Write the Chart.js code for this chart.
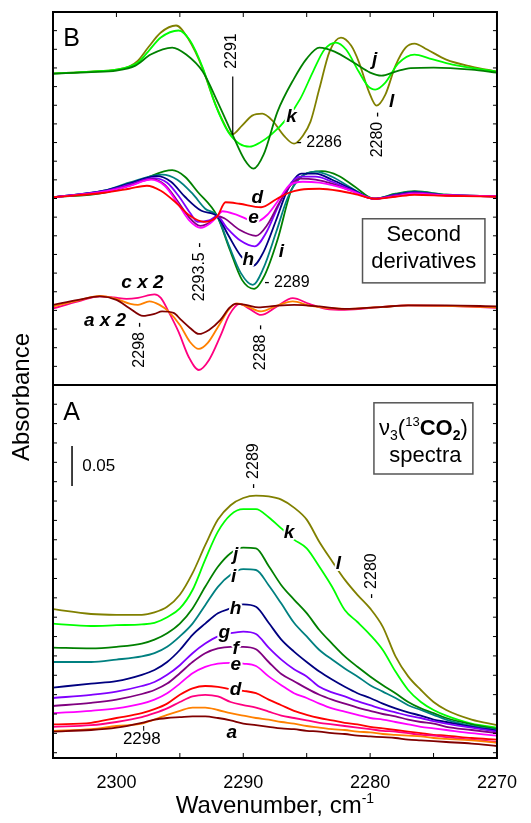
<!DOCTYPE html>
<html>
<head>
<meta charset="utf-8">
<script src="https://cdn.jsdelivr.net/npm/chart.js@4.4.0/dist/chart.umd.min.js"></script>
<style>
  html, body { margin: 0; padding: 0; background: #fff; }
  canvas { display: block; }
</style>
</head>
<body>
<canvas id="chart" width="531" height="823" style="width:531px;height:823px"></canvas>
<script>
// Wavenumber grid of the absorbance spectra (cm-1)
const wnA = [2305, 2302, 2300, 2298, 2297, 2296, 2295, 2294, 2293, 2292, 2291, 2290, 2289, 2288, 2287,
  2286, 2285, 2284, 2283, 2282, 2281, 2280, 2279, 2278, 2277, 2276, 2275, 2274, 2272, 2270];

// Panel A: absorbance of spectra a..l
const sp_a = [0.033, 0.035, 0.038, 0.044, 0.048, 0.050, 0.051, 0.052, 0.052, 0.050, 0.047, 0.043, 0.041, 0.039, 0.037, 0.036, 0.034, 0.033, 0.031, 0.030, 0.028, 0.027, 0.026, 0.025, 0.023, 0.022, 0.021, 0.020, 0.018, 0.015];
const sp_b = [0.034, 0.036, 0.040, 0.043, 0.048, 0.054, 0.059, 0.063, 0.063, 0.060, 0.056, 0.053, 0.050, 0.048, 0.045, 0.043, 0.040, 0.038, 0.036, 0.035, 0.033, 0.032, 0.030, 0.029, 0.028, 0.027, 0.025, 0.024, 0.022, 0.019];
const sp_c = [0.039, 0.041, 0.045, 0.051, 0.056, 0.062, 0.070, 0.077, 0.079, 0.077, 0.070, 0.066, 0.063, 0.058, 0.053, 0.050, 0.047, 0.044, 0.042, 0.040, 0.038, 0.036, 0.034, 0.033, 0.031, 0.029, 0.028, 0.026, 0.023, 0.020];
const sp_d = [0.042, 0.044, 0.050, 0.056, 0.061, 0.068, 0.079, 0.087, 0.090, 0.089, 0.086, 0.084, 0.081, 0.073, 0.066, 0.059, 0.054, 0.050, 0.047, 0.044, 0.042, 0.039, 0.037, 0.035, 0.033, 0.031, 0.029, 0.028, 0.025, 0.023];
const sp_e = [0.056, 0.059, 0.062, 0.068, 0.073, 0.081, 0.093, 0.106, 0.114, 0.118, 0.119, 0.118, 0.115, 0.102, 0.091, 0.081, 0.075, 0.068, 0.062, 0.058, 0.054, 0.050, 0.048, 0.045, 0.042, 0.039, 0.037, 0.035, 0.031, 0.028];
const sp_f = [0.065, 0.069, 0.073, 0.080, 0.085, 0.093, 0.106, 0.120, 0.131, 0.137, 0.139, 0.139, 0.136, 0.120, 0.105, 0.096, 0.087, 0.079, 0.073, 0.068, 0.063, 0.059, 0.055, 0.052, 0.048, 0.045, 0.043, 0.039, 0.035, 0.031];
const sp_g = [0.075, 0.079, 0.083, 0.090, 0.095, 0.104, 0.116, 0.131, 0.143, 0.152, 0.156, 0.158, 0.155, 0.138, 0.123, 0.111, 0.102, 0.089, 0.082, 0.077, 0.071, 0.066, 0.061, 0.057, 0.053, 0.050, 0.046, 0.043, 0.038, 0.033];
const sp_h = [0.088, 0.093, 0.096, 0.104, 0.110, 0.120, 0.135, 0.154, 0.168, 0.181, 0.187, 0.192, 0.189, 0.169, 0.148, 0.133, 0.120, 0.108, 0.098, 0.089, 0.081, 0.075, 0.068, 0.062, 0.057, 0.053, 0.048, 0.045, 0.039, 0.034];
const sp_i = [0.120, 0.120, 0.123, 0.127, 0.131, 0.139, 0.152, 0.168, 0.191, 0.214, 0.229, 0.236, 0.235, 0.216, 0.193, 0.169, 0.152, 0.135, 0.123, 0.112, 0.102, 0.091, 0.083, 0.075, 0.066, 0.060, 0.054, 0.048, 0.040, 0.035];
const sp_j = [0.138, 0.137, 0.139, 0.143, 0.148, 0.156, 0.168, 0.187, 0.214, 0.239, 0.256, 0.263, 0.262, 0.240, 0.216, 0.198, 0.181, 0.160, 0.143, 0.127, 0.114, 0.102, 0.091, 0.081, 0.070, 0.062, 0.056, 0.050, 0.042, 0.036];
const sp_k = [0.168, 0.165, 0.166, 0.167, 0.169, 0.176, 0.187, 0.210, 0.248, 0.283, 0.304, 0.311, 0.311, 0.301, 0.287, 0.273, 0.262, 0.239, 0.214, 0.185, 0.170, 0.154, 0.135, 0.108, 0.085, 0.070, 0.060, 0.053, 0.043, 0.038];
const sp_l = [0.186, 0.180, 0.179, 0.179, 0.182, 0.189, 0.204, 0.231, 0.266, 0.298, 0.316, 0.325, 0.328, 0.327, 0.323, 0.313, 0.298, 0.270, 0.246, 0.223, 0.204, 0.187, 0.164, 0.127, 0.102, 0.085, 0.070, 0.060, 0.048, 0.041];

// Panel B: second derivatives, [wavenumber, value] (arbitrary units, zero = own baseline)
const d2top_j = [[2305, 0], [2302, 0.15], [2300, 0.3], [2298.5, 0.8], [2297.3, 1.9], [2295.6, 2.6], [2294.5, 1.9], [2293.2, 0.2],
  [2292, -2.9], [2290.85, -6.1], [2289.9, -8.6], [2289.2, -9.5], [2288.4, -8.1], [2287.3, -3.8], [2286, -0.5], [2285, 1.5],
  [2284, 2.6], [2282.8, 2.2], [2281.3, 1.1], [2280, 0.1], [2279.1, -0.2], [2278, 0.2], [2276.8, 0.55], [2275, 0.6], [2272, 0.4], [2270, 0.1]];
const d2top_k = [[2305, 0], [2302, 0.2], [2300, 0.4], [2299, 0.7], [2298.3, 1.1], [2297.5, 2.2], [2296.5, 3.6], [2295.1, 4.3],
  [2294.2, 3.3], [2293.2, 0.6], [2292.2, -3.1], [2291.2, -5.8], [2290.3, -7.0], [2289.5, -7.3], [2288.7, -6.9], [2287.8, -6.1],
  [2286.5, -4.4], [2285.5, -2.5], [2284.5, 0.2], [2283.6, 2.4], [2282.7, 3.1], [2281.9, 2.4], [2280.9, 0.2], [2280.2, -1.2],
  [2279.6, -1.6], [2278.8, -0.9], [2277.8, 1.0], [2276.5, 1.9], [2275.3, 1.5], [2273.5, 0.9], [2270, 0.2]];
const d2top_l = [[2305, 0], [2302, 0.2], [2300, 0.4], [2299, 0.7], [2298.3, 1.3], [2297.5, 2.6], [2296.5, 4.1], [2295.3, 4.8],
  [2294.3, 3.4], [2293.2, 0.5], [2292.4, -2.4], [2291.7, -4.5], [2290.9, -6.1], [2290.1, -5.2], [2289.3, -4.2], [2288.5, -4.0],
  [2287.7, -4.7], [2286.8, -6.2], [2286, -7.0], [2285.3, -6.2], [2284.7, -4.8], [2284, -1.5], [2283.2, 2.2], [2282.3, 3.6],
  [2281.5, 2.8], [2280.9, 1.2], [2280.1, -1.8], [2279.5, -3.2], [2278.8, -2.1], [2278, 0.8], [2277.2, 2.6], [2276.5, 3.0],
  [2275.5, 2.4], [2274, 1.4], [2272, 0.7], [2270, 0.2]];

const d2mid_d = [[2305, 0], [2301, 0.45], [2299, 0.85], [2297.6, 1.15], [2296.5, 0.65], [2295.3, -0.55], [2294.2, -1.85],
  [2293.1, -2.45], [2292.05, -1.9], [2291.4, -0.5], [2290.3, -0.65], [2288.6, -1.0], [2287.4, -0.2], [2286.5, 0.4],
  [2285.5, 0.75], [2284, 0.85], [2282.5, 0.65], [2281, 0.25], [2279.7, -0.15], [2278, 0.05], [2276.5, 0.25], [2274, 0.15], [2270, 0.05]];
const d2mid_e = [[2305, 0], [2301, 0.55], [2299, 1.1], [2297.3, 1.75], [2296.2, 1.15], [2295.2, -0.55], [2294.3, -2.25],
  [2293.35, -3.05], [2292.6, -2.6], [2292.05, -1.9], [2291.65, -1.4], [2290.5, -1.75], [2289, -2.45], [2288.1, -1.75],
  [2287.2, -0.25], [2286.4, 1.15], [2285.3, 1.55], [2284, 1.45], [2283, 1.2], [2281.5, 0.65], [2279.7, -0.15], [2278, 0.1], [2276.5, 0.35], [2274, 0.2], [2270, 0.1]];
const d2mid_f = [[2305, 0], [2301, 0.55], [2299, 1.15], [2297.2, 1.8], [2296.2, 1.25], [2295.2, -0.35], [2294.3, -1.95],
  [2293.4, -2.85], [2292.6, -2.5], [2292.05, -1.9], [2291.5, -2.1], [2290.3, -3.25], [2289, -3.85], [2288.1, -2.75],
  [2287.2, -0.65], [2286.3, 1.15], [2285.5, 1.85], [2284.3, 1.75], [2283, 1.35], [2281.5, 0.65], [2279.7, -0.15], [2278, 0.15], [2276.5, 0.4], [2274, 0.2], [2270, 0.1]];
const d2mid_g = [[2305, 0], [2301, 0.6], [2299, 1.25], [2297.1, 1.9], [2296, 1.45], [2295, -0.05], [2294.2, -1.55],
  [2293.6, -2.45], [2292.7, -2.3], [2292.05, -1.9], [2291.3, -3.05], [2290.2, -4.35], [2289.1, -4.9], [2288.2, -3.55],
  [2287.3, -1.05], [2286.4, 1.15], [2285.5, 2.05], [2284.3, 2.05], [2283, 1.55], [2281.5, 0.75], [2279.7, -0.15], [2278, 0.2], [2276.5, 0.45], [2274, 0.2], [2270, 0.1]];
const d2mid_h = [[2305, 0], [2301, 0.65], [2299, 1.35], [2296.8, 2.1], [2295.7, 1.55], [2294.6, 0.05], [2293.3, -1.35],
  [2292.05, -1.9], [2291.2, -3.75], [2290.2, -5.85], [2289.25, -6.85], [2288.4, -5.45], [2287.4, -2.25], [2286.5, 0.75],
  [2285.4, 2.35], [2284.3, 2.35], [2283, 1.75], [2281.5, 0.85], [2279.7, -0.15], [2278, 0.25], [2276.5, 0.5], [2274, 0.2], [2270, 0.1]];
const d2mid_i = [[2305, 0], [2301, 0.65], [2299, 1.45], [2296.4, 2.25], [2295.2, 1.75], [2294, 0.35], [2293, -1.15],
  [2292.05, -1.9], [2291.2, -4.6], [2290.2, -7.55], [2289.25, -8.75], [2288.4, -7.05], [2287.4, -3.45], [2286.5, -0.05],
  [2285.5, 1.95], [2284.3, 2.55], [2283, 2.05], [2281.5, 0.95], [2279.7, -0.15], [2278, 0.3], [2276.5, 0.55], [2274, 0.25], [2270, 0.1]];
const d2mid_j = [[2305, 0], [2301, 0.45], [2299, 1.15], [2297.6, 1.95], [2295.6, 2.7], [2294.6, 2.05], [2293.6, 0.55],
  [2292.05, -1.9], [2291.1, -5.1], [2290.1, -8.25], [2289.15, -9.15], [2288.3, -7.75], [2287.3, -4.25], [2286.2, 0.75],
  [2285.2, 2.25], [2283.8, 2.6], [2282.5, 2.15], [2281.2, 1.05], [2279.7, -0.15], [2278, 0.35], [2276.5, 0.6], [2274, 0.25], [2270, 0.1]];

const d2low_a = [[2305, 0.1], [2303, 0.6], [2301.3, 0.95], [2300, 0.6], [2299, -0.2], [2297.9, -1.0], [2297, -0.8],
  [2296.4, -0.55], [2295.5, -0.7], [2294.9, -1.4], [2294.2, -2.2], [2293.5, -2.8], [2292.7, -2.4], [2291.8, -1.4],
  [2291.1, -0.2], [2290.6, 0.2], [2289.8, 0.1], [2288.8, -0.15], [2287.5, 0], [2286, 0.1], [2284, -0.05], [2282, -0.3],
  [2279, -0.1], [2277, 0.05], [2274, 0.05], [2270, -0.05]];
const d2low_b = [[2305, -0.05], [2303, 0.55], [2301.3, 1.0], [2300, 0.7], [2298.9, 0.2], [2298.3, 0.1], [2297.4, 0.45],
  [2296.6, 0.1], [2295.9, -0.55], [2295, -1.9], [2294.2, -3.6], [2293.5, -4.3], [2292.8, -3.7], [2291.9, -1.9],
  [2291.1, -0.3], [2290.5, 0.25], [2289.6, -0.1], [2288.6, -0.55], [2287.4, 0], [2286.1, 0.45], [2284.7, 0], [2282, -0.3],
  [2279, -0.1], [2277, 0.05], [2274, 0], [2270, -0.15]];
const d2low_c = [[2305, -0.25], [2303, 0.45], [2301.3, 0.95], [2300.2, 0.85], [2299.2, 0.7], [2298.3, 0.8], [2297, 1.15],
  [2296.5, 0.8], [2295.9, -0.55], [2295.1, -2.6], [2294.3, -5.1], [2293.5, -6.4], [2292.7, -5.4], [2291.8, -3.0],
  [2291.1, -0.9], [2290.3, 0.2], [2289.5, -0.3], [2288.6, -0.9], [2287.4, -0.1], [2286.1, 0.77], [2284.8, 0.2],
  [2283.5, -0.3], [2282, -0.4], [2279, -0.1], [2277, 0.05], [2274, 0], [2270, -0.2]];

// Vertical placement of the three groups of derivative traces (panel B units)
const offsetTop = 31.1;
const offsetMid = 18.75;
const offsetLow = 7.9;

const xTickVals = [2300, 2290, 2280, 2270];

const colors = {
  a: '#800000', b: '#ff8000', c: '#ff0080', d: '#ff0000', e: '#ff00ff', f: '#800080',
  g: '#8000ff', h: '#000080', i: '#008080', j: '#008000', k: '#00ff00', l: '#808000'
};

// Axis ranges
const yAMax = 0.46625;
const yBMax = 37.25;

const FONT = 'Arial, "Liberation Sans", Helvetica, sans-serif';
Chart.defaults.font.family = FONT;
Chart.defaults.color = '#000';

// Build datasets
const datasets = [];
const spectra = [['a', sp_a], ['b', sp_b], ['c', sp_c], ['d', sp_d], ['e', sp_e], ['f', sp_f],
  ['g', sp_g], ['h', sp_h], ['i', sp_i], ['j', sp_j], ['k', sp_k], ['l', sp_l]];
spectra.forEach(([key, vals]) => {
  datasets.push({
    label: key,
    data: wnA.map((x, i) => ({x: x, y: vals[i]})),
    borderColor: colors[key],
    yAxisID: 'yA'
  });
});

const derivs = [
  ['j', d2top_j, offsetTop], ['k', d2top_k, offsetTop], ['l', d2top_l, offsetTop],
  ['d', d2mid_d, offsetMid], ['e', d2mid_e, offsetMid], ['f', d2mid_f, offsetMid], ['g', d2mid_g, offsetMid],
  ['h', d2mid_h, offsetMid], ['i', d2mid_i, offsetMid], ['j', d2mid_j, offsetMid],
  ['a', d2low_a, offsetLow], ['b', d2low_b, offsetLow], ['c', d2low_c, offsetLow]
];
derivs.forEach(([key, pts, off]) => {
  datasets.push({
    label: 'd2 ' + key,
    data: pts.map(([x, v]) => ({x: x, y: v + off})),
    borderColor: colors[key],
    yAxisID: 'yB'
  });
});

// text helpers
function txt(ctx, s, x, y, font, align = 'center', rot = 0, halo = false) {
  ctx.save();
  ctx.translate(x, y);
  if (rot) ctx.rotate(rot);
  ctx.font = font;
  ctx.textAlign = align;
  ctx.textBaseline = 'middle';
  if (halo) {
    ctx.lineWidth = 4;
    ctx.strokeStyle = '#fff';
    ctx.lineJoin = 'round';
    ctx.strokeText(s, 0, 0);
  }
  ctx.fillStyle = '#000';
  ctx.fillText(s, 0, 0);
  ctx.restore();
}

// pieces drawn left to right, centred on cx; each piece: [text, font, dy]
function runs(ctx, pieces, cx, y) {
  ctx.save();
  ctx.textBaseline = 'alphabetic';
  ctx.fillStyle = '#000';
  let total = 0;
  pieces.forEach(p => { ctx.font = p[1]; total += ctx.measureText(p[0]).width; });
  let x = cx - total / 2;
  pieces.forEach(p => {
    ctx.font = p[1];
    ctx.fillText(p[0], x, y + p[2]);
    x += ctx.measureText(p[0]).width;
  });
  ctx.restore();
}

const decor = {
  id: 'decor',
  afterDatasetsDraw(chart) {
    const {ctx, chartArea: ca, scales} = chart;
    const X = v => scales.x.getPixelForValue(v);
    const A = v => scales.yA.getPixelForValue(v);
    const B = v => scales.yB.getPixelForValue(v);
    const ROT = -Math.PI / 2;
    const num = '16px ' + FONT;
    const lett = 'italic bold 19px ' + FONT;

    ctx.save();
    ctx.strokeStyle = '#000';

    // inward ticks
    ctx.lineWidth = 1;
    ctx.beginPath();
    for (let v = 2270; v <= 2305; v += 5) {
      const px = X(v);
      ctx.moveTo(px, ca.bottom); ctx.lineTo(px, ca.bottom - 5);
      ctx.moveTo(px, ca.top); ctx.lineTo(px, ca.top + 5);
    }
    for (let i = 1; i < 20; i++) {
      const py = B(i * yBMax / 20);
      ctx.moveTo(ca.left, py); ctx.lineTo(ca.left + 4, py);
      ctx.moveTo(ca.right, py); ctx.lineTo(ca.right - 4, py);
    }
    for (let i = 0; i <= 18; i++) {
      const py = A(0.0066 + i * 0.0242);
      ctx.moveTo(ca.left, py); ctx.lineTo(ca.left + 4, py);
      ctx.moveTo(ca.right, py); ctx.lineTo(ca.right - 4, py);
    }
    ctx.stroke();

    // frame and divider
    ctx.lineWidth = 2;
    ctx.strokeRect(ca.left, ca.top, ca.right - ca.left, ca.bottom - ca.top);
    ctx.beginPath();
    ctx.moveTo(ca.left, scales.yA.top);
    ctx.lineTo(ca.right, scales.yA.top);
    ctx.stroke();

    // ---- panel B ----
    txt(ctx, 'B', X(2304.2), B(34.5), '25px ' + FONT, 'left');
    txt(ctx, '2291', X(2290.9), B(33.35), num, 'center', ROT);
    ctx.lineWidth = 1.2;
    ctx.beginPath();
    ctx.moveTo(X(2290.83), B(30.8)); ctx.lineTo(X(2290.83), B(25.0));
    ctx.stroke();
    txt(ctx, 'k', X(2286.2), B(26.8), lett, 'center', 0, true);
    txt(ctx, '- 2286', X(2285.8), B(24.2), num, 'left');
    txt(ctx, 'j', X(2279.65), B(32.5), lett, 'center', 0, true);
    txt(ctx, 'l', X(2278.3), B(28.3), lett, 'center', 0, true);
    txt(ctx, '2280 -', X(2279.4), B(25.0), num, 'center', ROT);

    txt(ctx, 'd', X(2288.9), B(18.7), lett, 'center', 0, true);
    txt(ctx, 'e', X(2289.2), B(16.7), lett, 'center', 0, true);
    txt(ctx, 'h', X(2289.6), B(12.5), lett, 'center', 0, true);
    txt(ctx, 'i', X(2287.0), B(13.3), lett, 'center', 0, true);
    txt(ctx, '- 2289', X(2288.35), B(10.2), num, 'left');
    txt(ctx, '2293.5 -', X(2293.45), B(11.3), num, 'center', ROT);

    // "Second derivatives" box
    ctx.strokeStyle = '#555';
    ctx.lineWidth = 1.5;
    const bx0 = X(2280.6), bx1 = X(2270.95), by0 = B(16.6), by1 = B(10.2);
    ctx.strokeRect(bx0, by0, bx1 - bx0, by1 - by0);
    txt(ctx, 'Second', (bx0 + bx1) / 2, B(15.0), '22px ' + FONT);
    txt(ctx, 'derivatives', (bx0 + bx1) / 2, B(12.3), '22px ' + FONT);

    txt(ctx, 'c x 2', X(2297.95), B(10.2), lett, 'center', 0, true);
    txt(ctx, 'a x 2', X(2300.9), B(6.4), lett, 'center', 0, true);
    txt(ctx, '2298 -', X(2298.15), B(4.0), num, 'center', ROT);
    txt(ctx, '2288 -', X(2288.6), B(3.75), num, 'center', ROT);

    // ---- panel A ----
    txt(ctx, 'A', X(2304.2), A(0.431), '25px ' + FONT, 'left');
    ctx.strokeStyle = '#000';
    ctx.lineWidth = 1.5;
    ctx.beginPath();
    ctx.moveTo(X(2303.5), A(0.340)); ctx.lineTo(X(2303.5), A(0.390));
    ctx.stroke();
    txt(ctx, '0.05', X(2302.7), A(0.365), '17px ' + FONT, 'left');

    ctx.strokeStyle = '#555';
    const ax0 = X(2279.7), ax1 = X(2271.9), ay0 = A(0.444), ay1 = A(0.355);
    ctx.strokeRect(ax0, ay0, ax1 - ax0, ay1 - ay0);
    const cx = (ax0 + ax1) / 2;
    runs(ctx, [
      ['\u03BD', '22px ' + FONT, 0],
      ['3', '14px ' + FONT, 5],
      ['(', '22px ' + FONT, 0],
      ['13', '13px ' + FONT, -9],
      ['CO', 'bold 22px ' + FONT, 0],
      ['2', 'bold 14px ' + FONT, 5],
      [')', '22px ' + FONT, 0]
    ], cx, A(0.4035));
    txt(ctx, 'spectra', cx + 2, A(0.378), '22px ' + FONT);

    txt(ctx, '- 2289', X(2289.2), A(0.365), num, 'center', ROT);
    txt(ctx, '- 2280', X(2279.9), A(0.2275), num, 'center', ROT);

    txt(ctx, 'k', X(2286.4), A(0.281), lett, 'center', 0, true);
    txt(ctx, 'l', X(2282.5), A(0.243), lett, 'center', 0, true);
    txt(ctx, 'j', X(2290.6), A(0.254), lett, 'center', 0, true);
    txt(ctx, 'i', X(2290.75), A(0.227), lett, 'center', 0, true);
    txt(ctx, 'h', X(2290.6), A(0.186), lett, 'center', 0, true);
    txt(ctx, 'g', X(2291.5), A(0.156), lett, 'center', 0, true);
    txt(ctx, 'f', X(2290.6), A(0.137), lett, 'center', 0, true);
    txt(ctx, 'e', X(2290.6), A(0.116), lett, 'center', 0, true);
    txt(ctx, 'd', X(2290.6), A(0.085), lett, 'center', 0, true);
    txt(ctx, 'a', X(2290.9), A(0.031), lett, 'center', 0, true);

    txt(ctx, '2298', X(2298), A(0.023), '17px ' + FONT);
    ctx.strokeStyle = '#000';
    ctx.lineWidth = 1;
    ctx.beginPath();
    ctx.moveTo(X(2297.85), A(0.040)); ctx.lineTo(X(2297.85), A(0.034));
    ctx.stroke();

    // axis titles
    txt(ctx, 'Absorbance', 22, (ca.top + ca.bottom) / 2 + 12, '24px ' + FONT, 'center', ROT);
    runs(ctx, [
      ['Wavenumber, cm', '24px ' + FONT, 0],
      ['-1', '14px ' + FONT, -10]
    ], (ca.left + ca.right) / 2, 813);

    ctx.restore();
  }
};

new Chart(document.getElementById('chart'), {
  type: 'line',
  data: {datasets: datasets},
  options: {
    responsive: false,
    devicePixelRatio: 1,
    animation: false,
    layout: {padding: {left: 53, right: 22, top: 12, bottom: 0}},
    elements: {
      line: {borderWidth: 1.8, cubicInterpolationMode: 'monotone', fill: false},
      point: {radius: 0, hoverRadius: 0}
    },
    plugins: {legend: {display: false}, tooltip: {enabled: false}},
    scales: {
      x: {
        type: 'linear',
        reverse: true,
        min: 2270,
        max: 2305,
        grid: {display: false, drawTicks: false},
        border: {display: false},
        ticks: {color: '#000', font: {size: 18}, padding: 14, maxRotation: 0, callback: v => String(v)},
        afterBuildTicks: s => { s.ticks = xTickVals.map(v => ({value: v})); },
        afterFit: s => { s.height = 65; }
      },
      yA: {
        type: 'linear',
        position: 'left',
        stack: 'panels',
        stackWeight: 1,
        min: 0,
        max: yAMax,
        grid: {display: false, drawTicks: false},
        border: {display: false},
        ticks: {display: false}
      },
      yB: {
        type: 'linear',
        position: 'left',
        stack: 'panels',
        stackWeight: 1,
        min: 0,
        max: yBMax,
        grid: {display: false, drawTicks: false},
        border: {display: false},
        ticks: {display: false}
      }
    }
  },
  plugins: [decor]
});
</script>
</body>
</html>
